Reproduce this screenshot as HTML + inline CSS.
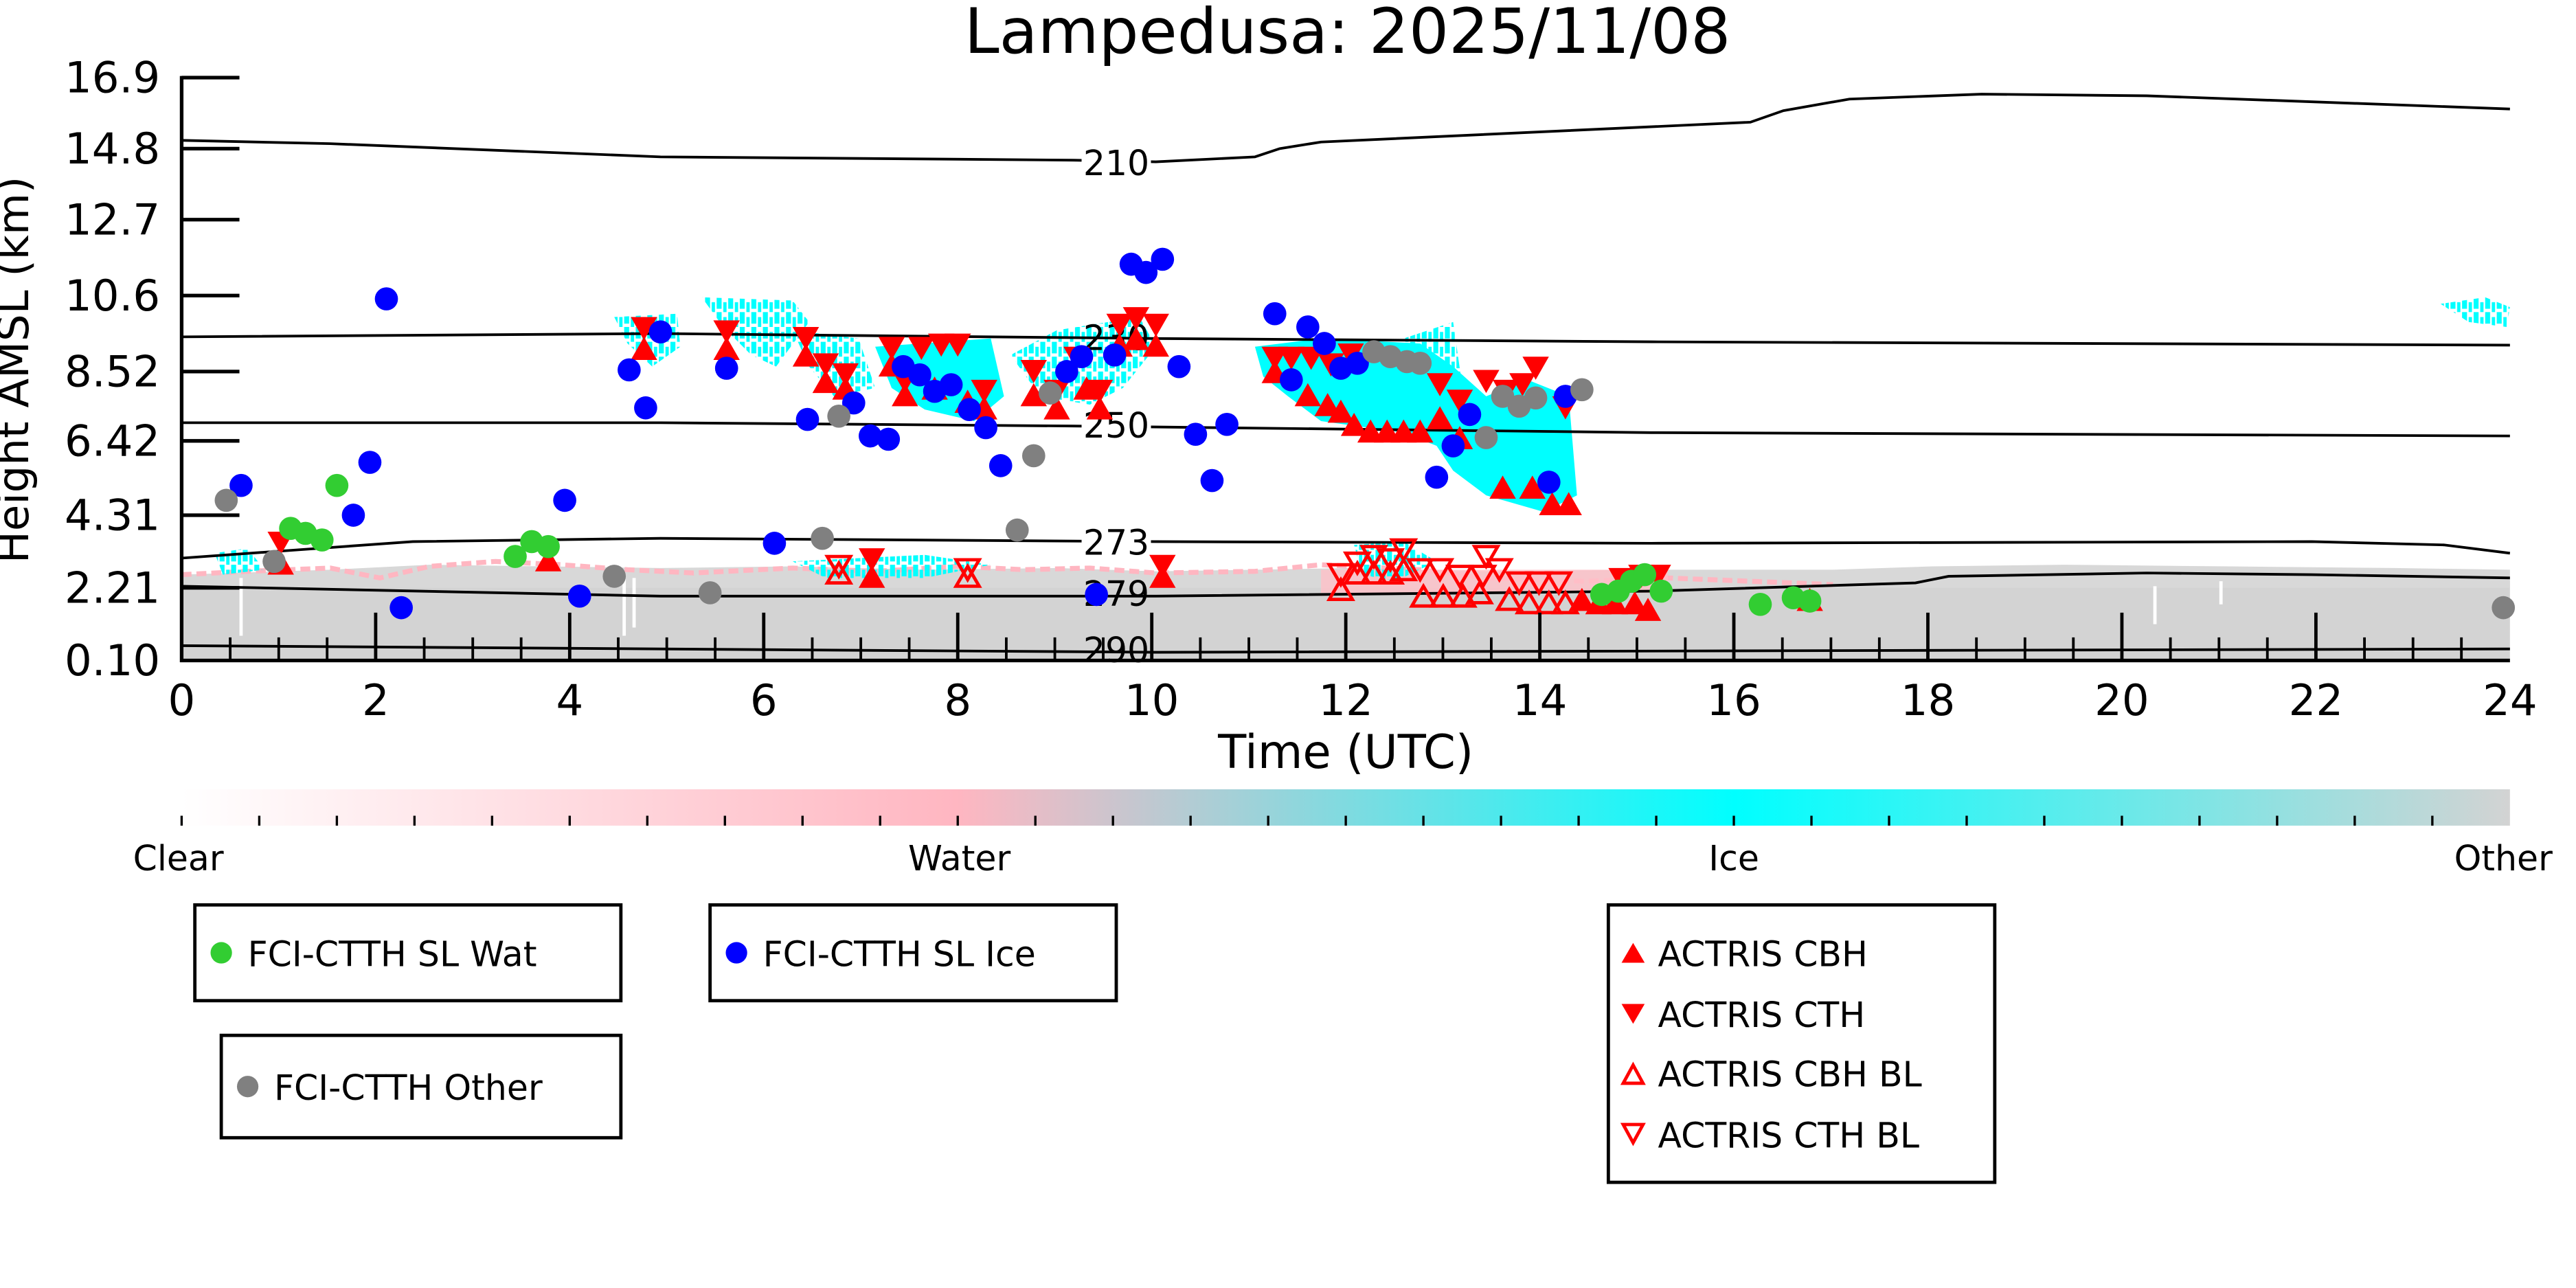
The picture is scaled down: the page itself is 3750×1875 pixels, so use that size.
<!DOCTYPE html>
<html><head><meta charset="utf-8"><style>
html,body{margin:0;padding:0;background:#fff;}
svg{display:block;}
text{font-family:"DejaVu Sans","Liberation Sans",sans-serif;fill:#000;}
</style></head><body>
<svg width="3750" height="1875" viewBox="0 0 1560 780" xmlns="http://www.w3.org/2000/svg">
<defs>
<linearGradient id="cb" x1="0" x2="1" y1="0" y2="0">
<stop offset="0" stop-color="#ffffff"/><stop offset="0.333" stop-color="#ffb6c1"/><stop offset="0.667" stop-color="#00ffff"/><stop offset="1" stop-color="#d3d3d3"/>
</linearGradient>
<pattern id="st" width="7" height="9" patternUnits="userSpaceOnUse">
<rect x="0" y="0" width="3" height="7" fill="#00ffff"/><rect x="4" y="3" width="2" height="6" fill="#00ffff"/>
</pattern>
<polygon id="up" points="0,-8 8,6 -8,6" fill="#ff0000"/>
<polygon id="dn" points="0,8 8,-6 -8,-6" fill="#ff0000"/>
<polygon id="uph" points="0,-7 7,5 -7,5" fill="none" stroke="#ff0000" stroke-width="2"/>
<polygon id="dnh" points="0,7 7,-5 -7,-5" fill="none" stroke="#ff0000" stroke-width="2"/>
</defs>
<text x="816" y="32" font-size="38" text-anchor="middle">Lampedusa: 2025/11/08</text>

<!-- other (grey) background -->
<rect x="110" y="352" width="1410" height="48" fill="#d3d3d3"/>
<polygon points="110,348 200,345 260,342 330,343 400,344 480,343 560,345 640,344 700,346 760,345 820,344 900,346 1000,345 1110,345 1170,343 1250,342 1350,343 1450,344 1520,345 1520,356 110,356" fill="#d8d8d8"/>
<polyline points="110,348 150,346 200,344 230,350 260,343 300,340 340,342 380,345 420,347 480,344 530,346 580,343 620,345 660,344 700,347 760,346 800,342 860,345 900,350 960,352 1010,350 1060,352 1110,354" fill="none" stroke="#ffb6c1" stroke-width="3" stroke-dasharray="6 3"/>
<rect x="800" y="345" width="210" height="14" fill="#ffc0c8" opacity="0.8"/>
<g stroke="#ffffff" stroke-width="2">
<line x1="146" y1="350" x2="146" y2="385"/><line x1="378" y1="350" x2="378" y2="385"/><line x1="384" y1="350" x2="384" y2="380"/><line x1="1305" y1="355" x2="1305" y2="378"/><line x1="1345" y1="352" x2="1345" y2="366"/>
</g>

<!-- ice (cyan) -->
<g fill="url(#st)">
<polygon points="372,192 410,190 412,210 395,222 380,208"/>
<polygon points="425,180 480,182 490,195 470,222 455,215 438,198"/>
<polygon points="480,200 520,205 530,235 505,240 490,222"/>
<polygon points="612,215 640,200 690,192 700,210 680,235 660,245 630,240"/>
<polygon points="850,205 880,195 885,230 860,225"/>
<polygon points="1478,184 1505,180 1520,186 1518,198 1495,195"/>
<polygon points="820,330 850,328 870,340 845,352 825,348"/>
<polygon points="480,340 560,336 600,342 560,350 500,350"/>
<polygon points="130,335 150,332 160,345 135,348"/>
</g>
<g fill="#00ffff">
<polygon points="530,210 600,205 608,240 590,255 560,248 540,235"/>
<polygon points="760,210 800,205 860,208 880,222 900,240 925,230 950,240 955,300 935,310 900,300 880,285 870,270 850,262 800,255 780,240 765,228"/>
</g>

<!-- isotherms -->
<g fill="none" stroke="#000" stroke-width="1.6">
<polyline points="110,85 200,87 400,95 650,97 700,98 760,95 775,90 800,86 1060,74 1080,67 1120,60 1200,57 1300,58 1520,66"/>
<polyline points="110,204 400,202 700,205 1000,207 1520,209"/>
<polyline points="110,256 400,256 650,258 1000,262 1520,264"/>
<polyline points="110,338 180,333 250,328 400,326 700,328 1000,329 1400,328 1480,330 1520,335"/>
<polyline points="110,355 400,361 700,361 1000,358 1160,353 1180,349 1300,347 1400,348 1520,350"/>
<polyline points="110,391 400,393 700,395 1520,393"/>
</g>
<g fill="#fff">
<rect x="655" y="90" width="42" height="16"/><rect x="655" y="249" width="42" height="16"/><rect x="655" y="320" width="42" height="16"/>
</g>
<g font-size="21" text-anchor="middle">
<text x="676" y="106">210</text><text x="676" y="212">230</text><text x="676" y="265">250</text><text x="676" y="336">273</text><text x="676" y="367">279</text><text x="676" y="401">290</text>
</g>

<!-- red triangles -->
<g>
<use href="#dn" x="170" y="328"/><use href="#up" x="170" y="342"/>
<use href="#up" x="332" y="340"/>
<use href="#dn" x="390" y="198"/><use href="#up" x="390" y="212"/>
<use href="#dn" x="440" y="200"/><use href="#up" x="440" y="212"/>
<use href="#dn" x="488" y="204"/><use href="#up" x="488" y="216"/>
<use href="#dn" x="500" y="220"/><use href="#up" x="500" y="232"/>
<use href="#dn" x="512" y="226"/><use href="#up" x="512" y="236"/>
<use href="#dn" x="540" y="210"/><use href="#up" x="540" y="222"/>
<use href="#dn" x="548" y="230"/><use href="#up" x="548" y="240"/>
<use href="#dn" x="558" y="210"/><use href="#up" x="566" y="236"/>
<use href="#dn" x="570" y="208"/><use href="#dn" x="580" y="208"/><use href="#up" x="586" y="244"/>
<use href="#dn" x="596" y="236"/><use href="#up" x="596" y="248"/>
<use href="#dn" x="626" y="224"/><use href="#up" x="626" y="240"/>
<use href="#dn" x="640" y="236"/><use href="#up" x="640" y="248"/>
<use href="#dn" x="652" y="216"/><use href="#up" x="658" y="236"/>
<use href="#dn" x="666" y="236"/><use href="#up" x="666" y="248"/>
<use href="#dn" x="678" y="196"/><use href="#up" x="678" y="210"/>
<use href="#dn" x="688" y="192"/><use href="#up" x="688" y="206"/>
<use href="#dn" x="700" y="196"/><use href="#up" x="700" y="210"/>
<use href="#dn" x="528" y="338"/><use href="#up" x="528" y="350"/>
<use href="#dn" x="704" y="342"/><use href="#up" x="704" y="350"/>
<use href="#dn" x="772" y="216"/><use href="#up" x="772" y="226"/>
<use href="#dn" x="782" y="216"/><use href="#dn" x="794" y="216"/><use href="#dn" x="806" y="220"/><use href="#dn" x="818" y="214"/>
<use href="#up" x="792" y="240"/><use href="#up" x="804" y="246"/><use href="#up" x="812" y="250"/>
<use href="#up" x="820" y="258"/><use href="#up" x="830" y="262"/><use href="#up" x="840" y="262"/><use href="#up" x="850" y="262"/><use href="#up" x="860" y="262"/>
<use href="#dn" x="872" y="232"/><use href="#up" x="872" y="254"/>
<use href="#dn" x="884" y="242"/><use href="#up" x="884" y="266"/>
<use href="#dn" x="900" y="230"/><use href="#dn" x="912" y="236"/><use href="#dn" x="922" y="232"/><use href="#dn" x="930" y="222"/>
<use href="#up" x="910" y="296"/><use href="#up" x="928" y="296"/><use href="#up" x="940" y="306"/><use href="#up" x="950" y="306"/>
<use href="#dn" x="948" y="246"/>
<use href="#up" x="958" y="364"/><use href="#up" x="968" y="366"/><use href="#up" x="978" y="366"/><use href="#up" x="990" y="366"/><use href="#up" x="998" y="370"/>
<use href="#dn" x="982" y="350"/><use href="#dn" x="994" y="348"/><use href="#dn" x="1004" y="348"/>
<use href="#up" x="1096" y="364"/>
</g>
<g>
<use href="#dnh" x="508" y="342"/><use href="#uph" x="508" y="348"/>
<use href="#dnh" x="586" y="344"/><use href="#uph" x="586" y="350"/>
<use href="#dnh" x="812" y="347"/><use href="#uph" x="812" y="358"/>
<use href="#dnh" x="822" y="340"/><use href="#uph" x="822" y="348"/>
<use href="#dnh" x="832" y="336"/><use href="#uph" x="832" y="348"/>
<use href="#dnh" x="842" y="338"/><use href="#uph" x="842" y="348"/>
<use href="#dnh" x="850" y="332"/><use href="#uph" x="850" y="346"/>
<use href="#dnh" x="860" y="344"/><use href="#uph" x="862" y="362"/>
<use href="#dnh" x="872" y="344"/><use href="#uph" x="874" y="362"/>
<use href="#dnh" x="884" y="348"/><use href="#uph" x="886" y="362"/>
<use href="#dnh" x="898" y="348"/><use href="#uph" x="896" y="360"/>
<use href="#dnh" x="900" y="336"/><use href="#dnh" x="908" y="344"/>
<use href="#dnh" x="920" y="352"/><use href="#uph" x="914" y="364"/>
<use href="#dnh" x="932" y="352"/><use href="#uph" x="926" y="366"/>
<use href="#dnh" x="944" y="352"/><use href="#uph" x="938" y="366"/><use href="#uph" x="948" y="366"/>
</g>

<!-- circles -->
<g fill="#0000ff">
<circle cx="146" cy="294" r="7"/><circle cx="234" cy="181" r="7"/><circle cx="214" cy="312" r="7"/><circle cx="224" cy="280" r="7"/><circle cx="243" cy="368" r="7"/><circle cx="342" cy="303" r="7"/><circle cx="351" cy="361" r="7"/><circle cx="381" cy="224" r="7"/><circle cx="391" cy="247" r="7"/><circle cx="400" cy="201" r="7"/><circle cx="440" cy="223" r="7"/><circle cx="469" cy="329" r="7"/><circle cx="489" cy="254" r="7"/><circle cx="517" cy="244" r="7"/><circle cx="527" cy="264" r="7"/><circle cx="538" cy="266" r="7"/><circle cx="547" cy="222" r="7"/><circle cx="557" cy="227" r="7"/><circle cx="566" cy="237" r="7"/><circle cx="576" cy="233" r="7"/><circle cx="587" cy="248" r="7"/><circle cx="597" cy="259" r="7"/><circle cx="606" cy="282" r="7"/><circle cx="664" cy="360" r="7"/><circle cx="646" cy="225" r="7"/><circle cx="655" cy="216" r="7"/><circle cx="675" cy="215" r="7"/><circle cx="685" cy="160" r="7"/><circle cx="694" cy="165" r="7"/><circle cx="704" cy="157" r="7"/><circle cx="714" cy="222" r="7"/><circle cx="724" cy="263" r="7"/><circle cx="734" cy="291" r="7"/><circle cx="743" cy="257" r="7"/><circle cx="772" cy="190" r="7"/><circle cx="782" cy="230" r="7"/><circle cx="792" cy="198" r="7"/><circle cx="802" cy="208" r="7"/><circle cx="812" cy="223" r="7"/><circle cx="822" cy="220" r="7"/><circle cx="870" cy="289" r="7"/><circle cx="880" cy="270" r="7"/><circle cx="890" cy="251" r="7"/><circle cx="938" cy="292" r="7"/><circle cx="948" cy="240" r="7"/>
</g>
<g fill="#808080">
<circle cx="137" cy="303" r="7"/><circle cx="166" cy="340" r="7"/><circle cx="372" cy="349" r="7"/><circle cx="430" cy="359" r="7"/><circle cx="498" cy="326" r="7"/><circle cx="508" cy="252" r="7"/><circle cx="616" cy="321" r="7"/><circle cx="626" cy="276" r="7"/><circle cx="636" cy="238" r="7"/><circle cx="832" cy="213" r="7"/><circle cx="842" cy="216" r="7"/><circle cx="852" cy="219" r="7"/><circle cx="860" cy="220" r="7"/><circle cx="900" cy="265" r="7"/><circle cx="910" cy="240" r="7"/><circle cx="920" cy="246" r="7"/><circle cx="930" cy="241" r="7"/><circle cx="958" cy="236" r="7"/><circle cx="1516" cy="368" r="7"/>
</g>
<g fill="#32cd32">
<circle cx="176" cy="320" r="7"/><circle cx="185" cy="323" r="7"/><circle cx="195" cy="327" r="7"/><circle cx="204" cy="294" r="7"/><circle cx="312" cy="337" r="7"/><circle cx="322" cy="328" r="7"/><circle cx="332" cy="331" r="7"/><circle cx="1066" cy="366" r="7"/><circle cx="1086" cy="362" r="7"/><circle cx="1096" cy="364" r="7"/>
<circle cx="970" cy="360" r="7"/><circle cx="980" cy="358" r="7"/><circle cx="988" cy="352" r="7"/><circle cx="996" cy="348" r="7"/><circle cx="1006" cy="358" r="7"/>
</g>

<!-- axes -->
<g stroke="#000" stroke-width="2.2" fill="none">
<line x1="110" y1="46" x2="110" y2="401"/>
<line x1="109" y1="400" x2="1520" y2="400"/>
<line x1="110" y1="47" x2="145" y2="47"/><line x1="110" y1="90" x2="145" y2="90"/><line x1="110" y1="133" x2="145" y2="133"/><line x1="110" y1="179" x2="145" y2="179"/><line x1="110" y1="225" x2="145" y2="225"/><line x1="110" y1="267" x2="145" y2="267"/><line x1="110" y1="312" x2="145" y2="312"/><line x1="110" y1="356" x2="145" y2="356"/>
</g>
<g stroke="#000" stroke-width="2">
<line x1="227.5" y1="400" x2="227.5" y2="371"/><line x1="345" y1="400" x2="345" y2="371"/><line x1="462.5" y1="400" x2="462.5" y2="371"/><line x1="580" y1="400" x2="580" y2="371"/><line x1="697.5" y1="400" x2="697.5" y2="371"/><line x1="815" y1="400" x2="815" y2="371"/><line x1="932.5" y1="400" x2="932.5" y2="371"/><line x1="1050" y1="400" x2="1050" y2="371"/><line x1="1167.5" y1="400" x2="1167.5" y2="371"/><line x1="1285" y1="400" x2="1285" y2="371"/><line x1="1402.5" y1="400" x2="1402.5" y2="371"/>
</g>
<g stroke="#000" stroke-width="1.6">
<line x1="139.4" y1="400" x2="139.4" y2="386"/><line x1="168.8" y1="400" x2="168.8" y2="386"/><line x1="198.1" y1="400" x2="198.1" y2="386"/><line x1="256.9" y1="400" x2="256.9" y2="386"/><line x1="286.3" y1="400" x2="286.3" y2="386"/><line x1="315.6" y1="400" x2="315.6" y2="386"/><line x1="374.4" y1="400" x2="374.4" y2="386"/><line x1="403.8" y1="400" x2="403.8" y2="386"/><line x1="433.1" y1="400" x2="433.1" y2="386"/><line x1="491.9" y1="400" x2="491.9" y2="386"/><line x1="521.3" y1="400" x2="521.3" y2="386"/><line x1="550.6" y1="400" x2="550.6" y2="386"/><line x1="609.4" y1="400" x2="609.4" y2="386"/><line x1="638.8" y1="400" x2="638.8" y2="386"/><line x1="668.1" y1="400" x2="668.1" y2="386"/><line x1="726.9" y1="400" x2="726.9" y2="386"/><line x1="756.3" y1="400" x2="756.3" y2="386"/><line x1="785.6" y1="400" x2="785.6" y2="386"/><line x1="844.4" y1="400" x2="844.4" y2="386"/><line x1="873.8" y1="400" x2="873.8" y2="386"/><line x1="903.1" y1="400" x2="903.1" y2="386"/><line x1="961.9" y1="400" x2="961.9" y2="386"/><line x1="991.3" y1="400" x2="991.3" y2="386"/><line x1="1020.6" y1="400" x2="1020.6" y2="386"/><line x1="1079.4" y1="400" x2="1079.4" y2="386"/><line x1="1108.8" y1="400" x2="1108.8" y2="386"/><line x1="1138.1" y1="400" x2="1138.1" y2="386"/><line x1="1196.9" y1="400" x2="1196.9" y2="386"/><line x1="1226.3" y1="400" x2="1226.3" y2="386"/><line x1="1255.6" y1="400" x2="1255.6" y2="386"/><line x1="1314.4" y1="400" x2="1314.4" y2="386"/><line x1="1343.8" y1="400" x2="1343.8" y2="386"/><line x1="1373.1" y1="400" x2="1373.1" y2="386"/><line x1="1431.9" y1="400" x2="1431.9" y2="386"/><line x1="1461.3" y1="400" x2="1461.3" y2="386"/><line x1="1490.6" y1="400" x2="1490.6" y2="386"/>
</g>
<g font-size="26" text-anchor="end">
<text x="97" y="56">16.9</text><text x="97" y="99">14.8</text><text x="97" y="142">12.7</text><text x="97" y="188">10.6</text><text x="97" y="234">8.52</text><text x="97" y="276">6.42</text><text x="97" y="321">4.31</text><text x="97" y="365">2.21</text><text x="97" y="409">0.10</text>
</g>
<g font-size="26" text-anchor="middle">
<text x="110" y="433">0</text><text x="227.5" y="433">2</text><text x="345" y="433">4</text><text x="462.5" y="433">6</text><text x="580" y="433">8</text><text x="697.5" y="433">10</text><text x="815" y="433">12</text><text x="932.5" y="433">14</text><text x="1050" y="433">16</text><text x="1167.5" y="433">18</text><text x="1285" y="433">20</text><text x="1402.5" y="433">22</text><text x="1520" y="433">24</text>
</g>
<text x="815" y="465" font-size="28" text-anchor="middle">Time (UTC)</text>
<text transform="translate(17,224) rotate(-90)" font-size="26" text-anchor="middle">Height AMSL (km)</text>

<!-- colorbar -->
<rect x="110" y="478" width="1410" height="22" fill="url(#cb)"/>
<g stroke="#000" stroke-width="1.4">
<line x1="110" y1="494" x2="110" y2="500"/><line x1="157" y1="494" x2="157" y2="500"/><line x1="204" y1="494" x2="204" y2="500"/><line x1="251" y1="494" x2="251" y2="500"/><line x1="298" y1="494" x2="298" y2="500"/><line x1="345" y1="494" x2="345" y2="500"/><line x1="392" y1="494" x2="392" y2="500"/><line x1="439" y1="494" x2="439" y2="500"/><line x1="486" y1="494" x2="486" y2="500"/><line x1="533" y1="494" x2="533" y2="500"/><line x1="580" y1="494" x2="580" y2="500"/><line x1="627" y1="494" x2="627" y2="500"/><line x1="674" y1="494" x2="674" y2="500"/><line x1="721" y1="494" x2="721" y2="500"/><line x1="768" y1="494" x2="768" y2="500"/><line x1="815" y1="494" x2="815" y2="500"/><line x1="862" y1="494" x2="862" y2="500"/><line x1="909" y1="494" x2="909" y2="500"/><line x1="956" y1="494" x2="956" y2="500"/><line x1="1003" y1="494" x2="1003" y2="500"/><line x1="1050" y1="494" x2="1050" y2="500"/><line x1="1097" y1="494" x2="1097" y2="500"/><line x1="1144" y1="494" x2="1144" y2="500"/><line x1="1191" y1="494" x2="1191" y2="500"/><line x1="1238" y1="494" x2="1238" y2="500"/><line x1="1285" y1="494" x2="1285" y2="500"/><line x1="1332" y1="494" x2="1332" y2="500"/><line x1="1379" y1="494" x2="1379" y2="500"/><line x1="1426" y1="494" x2="1426" y2="500"/><line x1="1473" y1="494" x2="1473" y2="500"/>
</g>
<g font-size="21" text-anchor="middle">
<text x="108" y="527">Clear</text><text x="581" y="527">Water</text><text x="1050" y="527">Ice</text><text x="1516" y="527">Other</text>
</g>

<!-- legends -->
<g fill="#fff" stroke="#000" stroke-width="2">
<rect x="118" y="548" width="258" height="58"/>
<rect x="430" y="548" width="246" height="58"/>
<rect x="134" y="627" width="242" height="62"/>
<rect x="974" y="548" width="234" height="168"/>
</g>
<g font-size="21">
<circle cx="134" cy="577" r="6.5" fill="#32cd32"/><text x="150" y="585">FCI-CTTH SL Wat</text>
<circle cx="446" cy="577" r="6.5" fill="#0000ff"/><text x="462" y="585">FCI-CTTH SL Ice</text>
<circle cx="150" cy="658" r="6.5" fill="#808080"/><text x="166" y="666">FCI-CTTH Other</text>
<polygon points="989,571 996,583 982,583" fill="#ff0000"/><text x="1004" y="585">ACTRIS CBH</text>
<polygon points="989,620 996,608 982,608" fill="#ff0000"/><text x="1004" y="622">ACTRIS CTH</text>
<polygon points="989,645 995,656 983,656" fill="none" stroke="#ff0000" stroke-width="2"/><text x="1004" y="658">ACTRIS CBH BL</text>
<polygon points="989,692 995,681 983,681" fill="none" stroke="#ff0000" stroke-width="2"/><text x="1004" y="695">ACTRIS CTH BL</text>
</g>
</svg>
</body></html>
